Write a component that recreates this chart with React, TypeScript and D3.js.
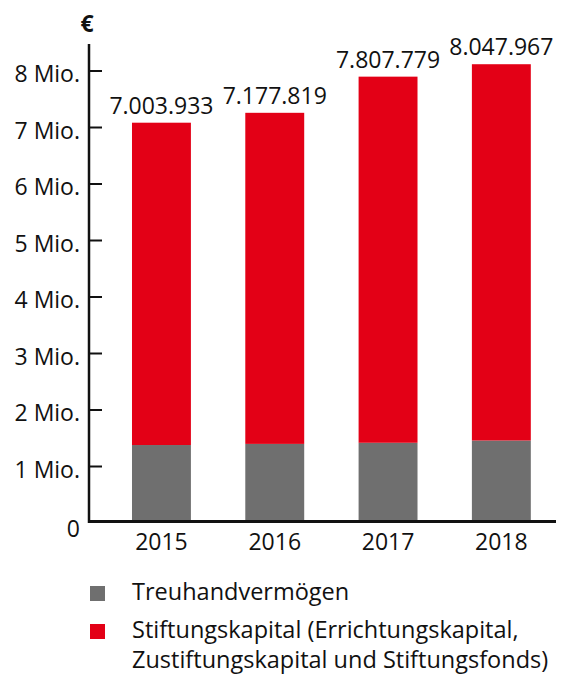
import React, { useEffect, useRef } from "react";
import * as d3 from "d3";

const years = ["2015", "2016", "2017", "2018"];
// values in Mio. €
const treuhand = [1.38, 1.4, 1.42, 1.46];
const stiftung = [5.705, 5.86, 6.48, 6.66];
const totalLabels = ["7.003.933", "7.177.819", "7.807.779", "8.047.967"];
const yTicks = [0, 1, 2, 3, 4, 5, 6, 7, 8];
const legendItems = [
  { color: "#6f6f6f", lines: ["Treuhandvermögen"] },
  { color: "#e30016", lines: ["Stiftungskapital (Errichtungskapital,", "Zustiftungskapital und Stiftungsfonds)"] },
];

const W = 564;
const H = 675;
const FONT = "'Open Sans', sans-serif";

const App = () => {
  const ref = useRef(null);

  useEffect(() => {
    const svg = d3.select(ref.current);
    svg.selectAll("*").remove();

    const x = d3.scaleBand().domain(years).range([104.8, 558]).paddingInner(0.48).paddingOuter(0.24);
    const y = d3.scaleLinear().domain([0, 8]).range([523, 71]);

    const data = years.map((yr, i) => ({ yr, t: treuhand[i], s: stiftung[i], label: totalLabels[i] }));

    // bars
    const g = svg.append("g");
    g.selectAll("rect.t")
      .data(data)
      .enter()
      .append("rect")
      .attr("x", (d) => x(d.yr))
      .attr("width", x.bandwidth())
      .attr("y", (d) => y(d.t))
      .attr("height", (d) => y(0) - y(d.t))
      .attr("fill", "#6f6f6f");
    g.selectAll("rect.s")
      .data(data)
      .enter()
      .append("rect")
      .attr("x", (d) => x(d.yr))
      .attr("width", x.bandwidth())
      .attr("y", (d) => y(d.t + d.s))
      .attr("height", (d) => y(d.t) - y(d.t + d.s))
      .attr("fill", "#e30016");

    // total labels
    g.selectAll("text.v")
      .data(data)
      .enter()
      .append("text")
      .attr("x", (d) => x(d.yr) + x.bandwidth() / 2)
      .attr("y", (d) => y(d.t + d.s) - 9)
      .attr("text-anchor", "middle")
      .attr("font-family", FONT)
      .attr("font-size", 23)
      .attr("fill", "#111")
      .text((d) => d.label);

    // y axis
    svg.append("line").attr("x1", 89).attr("x2", 89).attr("y1", 44).attr("y2", 523).attr("stroke", "#111").attr("stroke-width", 2.5);
    svg
      .selectAll("line.tick")
      .data(yTicks.filter((v) => v > 0))
      .enter()
      .append("line")
      .attr("x1", 89)
      .attr("x2", 102)
      .attr("y1", (d) => y(d))
      .attr("y2", (d) => y(d))
      .attr("stroke", "#111")
      .attr("stroke-width", 2);
    svg
      .selectAll("text.yt")
      .data(yTicks)
      .enter()
      .append("text")
      .attr("x", 80)
      .attr("y", (d) => (d === 0 ? 537 : y(d) + 11))
      .attr("text-anchor", "end")
      .attr("font-family", FONT)
      .attr("font-size", 23)
      .attr("fill", "#111")
      .text((d) => (d === 0 ? "0" : `${d} Mio.`));
    svg.append("text").attr("x", 87).attr("y", 32).attr("text-anchor", "middle").attr("font-family", FONT).attr("font-size", 23).attr("font-weight", "bold").attr("fill", "#111").text("€");

    // x axis
    svg.append("line").attr("x1", 88).attr("x2", 556).attr("y1", 521.5).attr("y2", 521.5).attr("stroke", "#111").attr("stroke-width", 3);
    svg
      .selectAll("text.xt")
      .data(years)
      .enter()
      .append("text")
      .attr("x", (d) => x(d) + x.bandwidth() / 2)
      .attr("y", 550)
      .attr("text-anchor", "middle")
      .attr("font-family", FONT)
      .attr("font-size", 23)
      .attr("fill", "#111")
      .text((d) => d);

    // legend
    const lg = svg.append("g");
    const rowY = [600, 638];
    legendItems.forEach((item, i) => {
      lg.append("rect").attr("x", 90).attr("y", rowY[i] - 14).attr("width", 15).attr("height", 15).attr("fill", item.color);
      item.lines.forEach((line, j) => {
        lg.append("text")
          .attr("x", 132)
          .attr("y", rowY[i] + j * 30)
          .attr("font-family", FONT)
          .attr("font-size", 23.5)
          .attr("fill", "#111")
          .text(line);
      });
    });
  }, []);

  return <svg ref={ref} width={W} height={H} style={{ position: "absolute", left: 0, top: 0 }}></svg>;
};

export default App;
